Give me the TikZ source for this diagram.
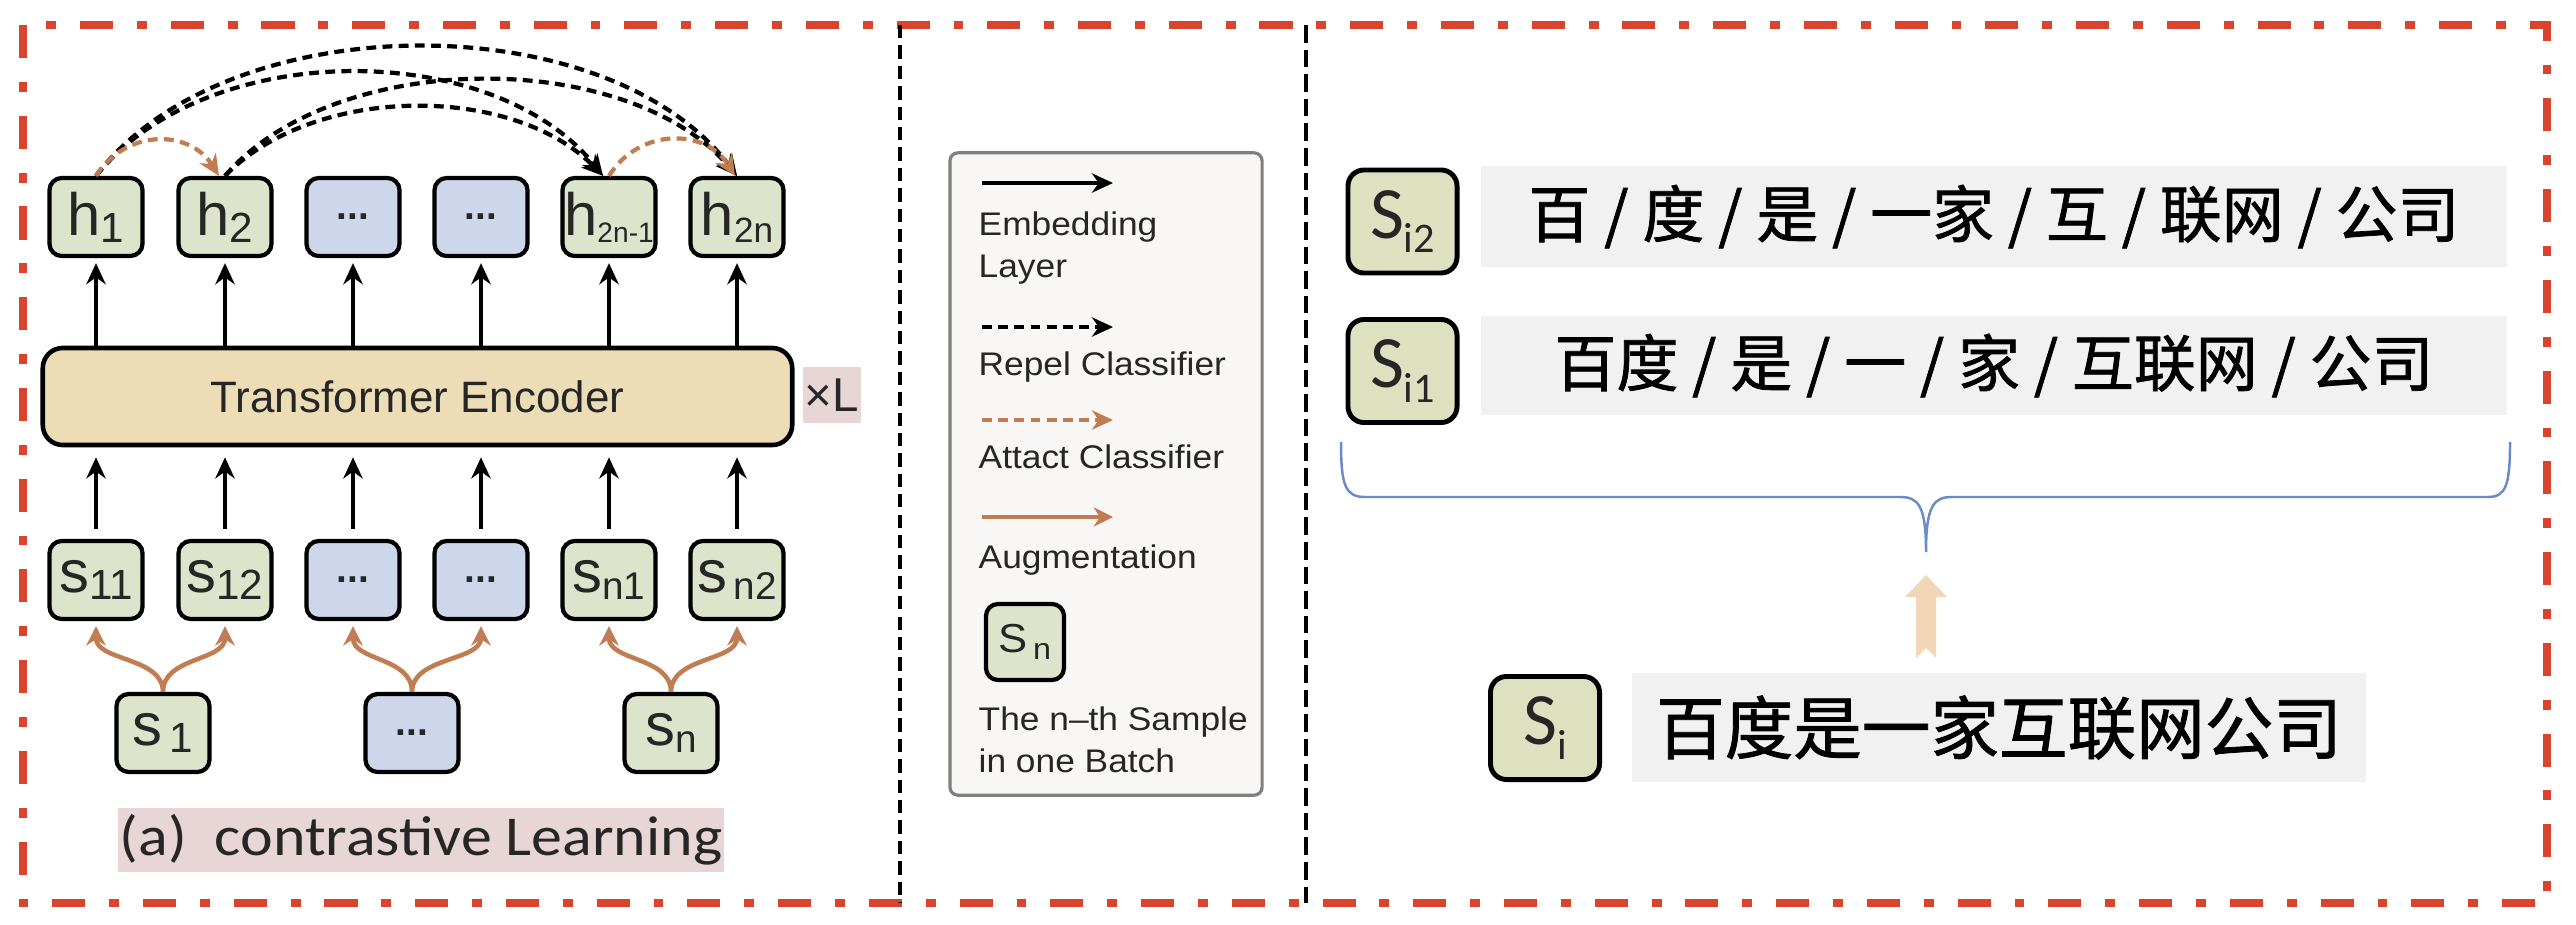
\documentclass[tikz,border=0pt]{standalone}
\usepackage{fontspec}
\setmainfont{Liberation Sans}
\newfontfamily\legfont[FakeStretch=1.08]{Liberation Sans}
\newfontfamily\capfont[FakeStretch=1.1]{Carlito}
\newfontfamily\calfont{Carlito}
\newfontfamily\cjkfont[FakeBold=1.2]{Noto Sans CJK SC}
\usetikzlibrary{arrows.meta}
\definecolor{frameRed}{HTML}{D9442E}
\definecolor{boxGreen}{HTML}{DCE4CB}
\definecolor{boxBlue}{HTML}{CDD6EB}
\definecolor{teFill}{HTML}{ECDDB6}
\definecolor{pinkBg}{HTML}{E8D6D7}
\definecolor{augBrown}{HTML}{C27C52}
\definecolor{barGray}{HTML}{F1F1F1}
\definecolor{legFill}{HTML}{F8F7F5}
\definecolor{legEdge}{HTML}{7F7F7F}
\definecolor{braceBlue}{HTML}{6A8BC6}
\definecolor{beigeArrow}{HTML}{F1D6B7}
\definecolor{siGreen}{HTML}{DDE1C0}
\newcommand{\tl}[3]{#1\raisebox{-2pt}{\fontsize{#3}{#3}\selectfont #2}}
\newcommand{\dd}{{\fontsize{11}{11}\selectfont\textbf{...}}}
\tikzset{
  tok/.style={draw=black, line width=1.2pt, rounded corners=3.5pt, fill=boxGreen,
    minimum width=0.93cm, minimum height=0.78cm, inner sep=0pt,
    font=\fontsize{17}{17}\selectfont, text=black!85},
  btok/.style={tok, fill=boxBlue},
  stok/.style={tok, fill=siGreen, minimum width=1.09cm, minimum height=1.03cm,
    rounded corners=0.16cm, line width=1.4pt, font=\calfont\fontsize{21}{21}\selectfont},
  bar/.style={fill=barGray, inner sep=0pt, font=\cjkfont\fontsize{17.6}{17.6}\selectfont, text=black},
  emb/.style={-{Stealth[length=6pt,width=5.5pt]}, line width=1.1pt},
  rep/.style={-{Stealth[length=6pt,width=5.5pt]}, line width=1.2pt, dash pattern=on 2.8pt off 1.8pt},
  att/.style={rep, draw=augBrown},
  aug/.style={-{Stealth[length=5.5pt,width=5.5pt]}, line width=1.3pt, draw=augBrown},
  legtext/.style={anchor=base west, inner sep=0pt, font=\legfont\fontsize{9.3}{9.3}\selectfont, text=black!85},
}
\begin{document}
\begin{tikzpicture}[x=0.01cm, y=-0.01cm]
\useasboundingbox (0,0) rectangle (2576,924);

% outer frame and separators
\draw[frameRed, line width=2.3pt, dash pattern=on 9.4pt off 6.8pt on 2.8pt off 6.8pt] (23,25) rectangle (2547,903);
\draw[line width=0.9pt, dash pattern=on 3.8pt off 2pt] (900,25) -- (900,903);
\draw[line width=0.9pt, dash pattern=on 5pt off 2pt] (1306,25) -- (1306,903);

% ---------- left panel ----------
\node[tok]  (h1) at (96,217)  {\tl{h}{1}{12}};
\node[tok]  (h2) at (225,217) {\tl{h}{2}{12}};
\node[btok] (h3) at (353,217) {\dd};
\node[btok] (h4) at (481,217) {\dd};
\node[tok]  (h5) at (609,217) {\tl{h}{2n-1}{8}};
\node[tok]  (h6) at (737,217) {\tl{h}{2n}{10}};

\node[draw, line width=1.3pt, rounded corners=0.2cm, fill=teFill, minimum width=7.49cm,
  minimum height=0.97cm, font=\fontsize{12.5}{12.5}\selectfont, text=black!85] (te) at (417.5,396.5) {Transformer Encoder};
\node[fill=pinkBg, minimum width=0.57cm, minimum height=0.56cm, inner sep=0pt,
  font=\fontsize{13.5}{13.5}\selectfont, text=black!85] (xl) at (832,395) {×L};

\node[tok]  (s1) at (96,580)  {\tl{s}{11}{12}};
\node[tok]  (s2) at (225,580) {\tl{s}{12}{12}};
\node[btok] (s3) at (353,580) {\dd};
\node[btok] (s4) at (481,580) {\dd};
\node[tok]  (s5) at (609,580) {\tl{s}{n1}{11}};
\node[tok]  (s6) at (737,580) {\tl{s}{\,n2}{11}};

\node[tok]  (b1) at (163,733) {\tl{s}{\,1}{12}};
\node[btok] (b2) at (412,733) {\dd};
\node[tok]  (b3) at (671,733) {\tl{s}{n}{11}};

\node[fill=pinkBg, minimum width=6.06cm, minimum height=0.64cm, inner sep=0pt,
  font=\capfont\fontsize{16}{16}\selectfont, text=black!85] (cap) at (421,840) {(a)\ \ contrastive Learning};

% vertical arrows
\foreach \i in {1,...,6}{
  \draw[emb, shorten >=0.05cm] (h\i |- te.north) -- (h\i.south);
  \draw[emb, shorten <=0.1cm, shorten >=0.1cm] (s\i.north) -- (s\i |- te.south);
}
% augmentation
\draw[aug, shorten >=0.05cm] (b1.north) .. controls +(0,-35) and +(0,40) .. (s1.south);
\draw[aug, shorten >=0.05cm] (b1.north) .. controls +(0,-35) and +(0,40) .. (s2.south);
\draw[aug, shorten >=0.05cm] (b2.north) .. controls +(0,-35) and +(0,40) .. (s3.south);
\draw[aug, shorten >=0.05cm] (b2.north) .. controls +(0,-35) and +(0,40) .. (s4.south);
\draw[aug, shorten >=0.05cm] (b3.north) .. controls +(0,-35) and +(0,40) .. (s5.south);
\draw[aug, shorten >=0.05cm] (b3.north) .. controls +(0,-35) and +(0,40) .. (s6.south);

% classifier arcs
\draw[rep] (h1.north) .. controls +(130,-172) and +(-130,-172) .. (h6.north);
\draw[rep] (h1.north) .. controls +(110,-138) and +(-110,-138) .. ([xshift=-0.06cm]h5.north);
\draw[rep] (h2.north) .. controls +(110,-128) and +(-110,-128) .. (h6.north);
\draw[rep] (h2.north) .. controls +(90,-92) and +(-90,-92) .. ([xshift=-0.06cm]h5.north);
\draw[att] (h1.north) .. controls +(30,-47) and +(-30,-47) .. ([xshift=-0.06cm]h2.north);
\draw[att] (h5.north) .. controls +(30,-48) and +(-30,-48) .. ([xshift=-0.02cm]h6.north);

% ---------- legend ----------
\node[draw=legEdge, line width=0.9pt, fill=legFill, rounded corners=0.08cm,
  minimum width=3.12cm, minimum height=6.42cm] (leg) at (1106,474) {};
\coordinate (la1) at (982,183);  \coordinate (lb1) at (1113,183);
\coordinate (la2) at (982,327);  \coordinate (lb2) at (1113,327);
\coordinate (la3) at (982,420);  \coordinate (lb3) at (1113,420);
\coordinate (la4) at (982,517);  \coordinate (lb4) at (1113,517);
\draw[emb] (la1) -- (lb1);
\draw[rep] (la2) -- (lb2);
\draw[att] (la3) -- (lb3);
\draw[aug] (la4) -- (lb4);
\node[legtext] (t1) at (978,235) {Embedding};
\node[legtext] (t2) at (978,277) {Layer};
\node[legtext] (t3) at (978,375) {Repel Classifier};
\node[legtext] (t4) at (978,468) {Attact Classifier};
\node[legtext] (t5) at (978,568) {Augmentation};
\node[tok, minimum width=0.78cm, minimum height=0.76cm, rounded corners=0.12cm,
  font=\legfont\fontsize{11.5}{11.5}\selectfont] (lsn) at (1025,642) {S\raisebox{-2pt}{\fontsize{8.5}{8.5}\selectfont\,n}};
\node[legtext] (t6) at (978,730) {The n–th Sample};
\node[legtext] (t7) at (978,772) {in one Batch};

% ---------- right panel ----------
\node[stok] (si2) at (1402.5,221.5) {S\raisebox{-4pt}{\fontsize{12}{12}\selectfont i2}};
\node[bar, minimum width=10.26cm, minimum height=1.01cm] (bar2) at (1994,216.5) {百 / 度 / 是 / 一家 / 互 / 联网 / 公司};
\node[stok] (si1) at (1402.5,371) {S\raisebox{-4pt}{\fontsize{12}{12}\selectfont i1}};
\node[bar, minimum width=10.26cm, minimum height=0.99cm] (bar1) at (1994,365.5) {百度 / 是 / 一 / 家 / 互联网 / 公司};

\draw[braceBlue, line width=0.7pt] (1341,442) .. controls (1341,485) and (1345,497) .. (1365,497)
  -- (1900,497) .. controls (1918,497) and (1926,505) .. (1926,552)
  .. controls (1926,505) and (1934,497) .. (1952,497) -- (2488,497)
  .. controls (2506,497) and (2510,485) .. (2510,442);

\fill[beigeArrow] (1926,575) -- (1947,597) -- (1936,597) -- (1936,658) -- (1926,648)
  -- (1916,658) -- (1916,597) -- (1905,597) -- cycle;

\node[stok] (si) at (1545,728) {S\raisebox{-4pt}{\fontsize{12}{12}\selectfont i}};
\node[bar, minimum width=7.34cm, minimum height=1.09cm, font=\cjkfont\fontsize{19.5}{19.5}\selectfont] (bar3) at (1999,727.5) {百度是一家互联网公司};
\end{tikzpicture}
\end{document}
